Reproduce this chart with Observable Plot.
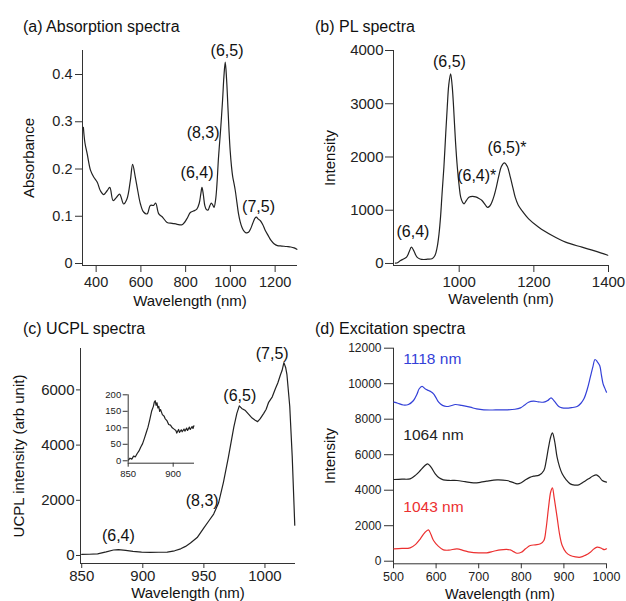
<!DOCTYPE html>
<html><head><meta charset="utf-8">
<script src="https://cdn.jsdelivr.net/npm/d3@7"></script>
<script src="https://cdn.jsdelivr.net/npm/@observablehq/plot@0.6"></script>
<style>
body{margin:0;background:#fff;}
#fig{position:relative;width:626px;height:601px;overflow:hidden;background:#fff;font-family:"Liberation Sans",Arial,Helvetica,sans-serif;color:#111;}
#fig svg{position:absolute;overflow:visible;}
.title{position:absolute;font-size:16px;line-height:18px;white-space:nowrap;color:#111;}
</style></head><body><div id="fig"></div>
<script>
// ---------- (a) Absorption spectra ----------
const absWl = [343,350,360,375,389,405,419,434,449,461,476,491,505,523,538,553,563,575,586,598,612,628,642,657,666,680,695,717,740,762,784,806,821,835,850,861,868,873,879,886,893,900,908,915,921,927,934,940,947,956,965,971,977,983,989,994,999,1005,1010,1016,1022,1029,1036,1044,1052,1060,1070,1081,1090,1100,1110,1116,1125,1135,1145,1156,1168,1180,1195,1210,1230,1252,1270,1285,1297];
const absVal = [0.288,0.255,0.232,0.197,0.183,0.172,0.154,0.146,0.154,0.161,0.133,0.140,0.147,0.126,0.137,0.176,0.210,0.183,0.154,0.126,0.109,0.105,0.123,0.123,0.128,0.105,0.099,0.087,0.085,0.083,0.082,0.095,0.108,0.111,0.115,0.128,0.148,0.161,0.146,0.122,0.114,0.113,0.122,0.128,0.124,0.119,0.135,0.168,0.225,0.281,0.345,0.395,0.426,0.390,0.331,0.280,0.239,0.205,0.185,0.170,0.154,0.130,0.106,0.088,0.076,0.069,0.065,0.066,0.073,0.085,0.096,0.098,0.094,0.090,0.082,0.070,0.060,0.050,0.042,0.038,0.037,0.036,0.035,0.033,0.030];
const absXTicks = [400,600,800,1000,1200];
const absYTicks = [0,0.1,0.2,0.3,0.4];
const absYTickLabels = ["0","0.1","0.2","0.3","0.4"];
const absAnnText = ["(6,5)","(8,3)","(6,4)","(7,5)"];
const absAnnX = [985,878,851,1126];
const absAnnY = [0.451,0.276,0.191,0.119];

// ---------- (b) PL spectra ----------
const plWl = [829,836,843,851,859,866,872,879,887,895,905,915,927,935,941,946,950,954,959,964,968,972,977,981,985,990,995,1000,1004,1009,1013,1019,1026,1036,1044,1053,1061,1070,1076,1082,1088,1093,1100,1106,1113,1121,1129,1137,1144,1150,1158,1168,1186,1213,1249,1285,1329,1365,1398];
const plVal = [5,20,56,85,118,220,306,230,118,85,75,80,88,150,306,560,870,1300,1808,2450,2935,3350,3562,3350,2935,2300,1808,1450,1245,1150,1120,1180,1245,1260,1250,1220,1183,1100,1055,1080,1160,1260,1450,1640,1820,1890,1820,1620,1420,1245,1100,995,839,682,526,400,306,231,155];
const plXTicks = [1000,1200,1400];
const plYTicks = [0,1000,2000,3000,4000];
const plAnnText = ["(6,5)","(6,4)","(6,4)*","(6,5)*"];
const plAnnX = [974,876,1047,1128];
const plAnnY = [3780,588,1653,2165];

// ---------- (c) UCPL spectra ----------
const ucWl = [850,856,863,870,876,880,886,892,899,906,913,920,926,931,935,939,944.5,950,954,958,962,966,970,974.5,977,979,981,984,986,989.5,992,994,996,999,1001,1003,1006,1008.6,1010.5,1012.7,1014,1015.5,1017,1018,1020.3,1022.3,1024.4];
const ucVal = [40,45,60,130,200,215,185,150,125,115,118,125,170,242,330,450,650,1000,1250,1500,1900,2650,3550,4650,5150,5420,5330,5250,5150,4980,4900,4850,4950,5150,5300,5550,5750,6050,6250,6550,6700,6990,6800,6550,5400,3600,1100];
const ucXTicks = [850,900,950,1000];
const ucYTicks = [0,2000,4000,6000];
const ucAnnText = ["(6,4)","(8,3)","(6,5)","(7,5)"];
const ucAnnX = [880,948.6,979.4,1005.9];
const ucAnnY = [725,1993,5797,7308];
// inset
const insWl = [850.5,852,854,856,858,860,862,864,866,868,870,872,874,876,878,879,880,881,882,883,884,885,886,888,890,891,893,895,897,899,901,903,904,906,907,909,910,912,913,915,916,918,919,921,922,923];
const insVal = [3,8,5,14,12,22,30,42,52,68,85,102,125,150,165,178,182,168,176,160,165,150,155,140,135,128,122,110,108,100,96,92,84,95,86,94,88,96,90,99,92,102,95,104,98,106];
const insXTicks = [850,900];
const insYTicks = [0,50,100,150,200];

// ---------- (d) Excitation spectra ----------
const exWl1118 = [501,510,523,535,547,555,560,567,575,582,588,594,600,606,615,625,635,645,660,680,695,712,740,766,785,798,808,817,829,840,853,862,870,878,888,896,904,918,931,940,947,955,962,968,973,978,984,988,992,996,1000];
const exVal1118 = [8960,8900,8800,8830,9054,9400,9700,9850,9700,9617,9550,9430,9200,8958,8780,8715,8760,8828,8780,8676,8580,8526,8520,8526,8560,8639,8800,8958,9014,8980,8958,9050,9204,9000,8715,8640,8620,8650,8715,8900,9149,9700,10366,10950,11363,11250,11025,10500,9994,9750,9522];
const exWl1064 = [501,520,539,552,563,572,580,588,598,607,617,630,649,668,688,705,719,743,766,780,790,800,810,820,829,842,853,858,864,869,873,878,884,890,896,905,915,925,935,945,958,968,976,983,990,1000];
const exVal1064 = [4603,4620,4642,4850,5110,5350,5487,5300,4924,4700,4586,4550,4546,4480,4417,4450,4510,4586,4546,4440,4357,4420,4586,4720,4789,4850,5110,5600,6425,7000,7233,6800,5860,5300,4924,4600,4357,4290,4300,4450,4642,4800,4868,4750,4546,4451];
const exWl1043 = [501,520,539,552,563,573,582,588,594,605,617,630,649,665,680,700,719,735,751,774,782,790,800,810,821,833,845,853,858,864,869,873,877,884,890,896,905,915,927,939,950,962,970,978,985,990,995,1000];
const exVal1043 = [698,720,755,950,1262,1600,1769,1500,1166,850,642,620,698,600,507,470,473,560,642,642,540,450,500,698,884,924,980,1166,1800,3042,3900,4135,3600,2479,1500,884,500,321,240,225,330,507,680,789,760,698,650,698];
const exXTicks = [500,600,700,800,900,1000];
const exYTicks = [0,2000,4000,6000,8000,10000,12000];
const exLabelText = ["1118 nm","1064 nm","1043 nm"];
const exLabelX = [523,523,523];
const exLabelY = [11369,7082,3025];
const exColors = ["#3340d8","#222222","#ec3030"];

// ---------- helpers ----------
const FONT = '"Liberation Sans", Arial, Helvetica, sans-serif';
const INK = "#222";
const zip = (xs, ys) => xs.map((x, i) => ({x, y: ys[i]}));
const fig = document.getElementById("fig");
function place(el, left, top) {
  el.style.left = left + "px"; el.style.top = top + "px";
  el.style.position = "absolute"; el.style.overflow = "visible";
  fig.appendChild(el);
}
function addTitle(text, left, top) {
  const d = document.createElement("div");
  d.className = "title"; d.textContent = text;
  d.style.left = left + "px"; d.style.top = top + "px";
  fig.appendChild(d);
}
function panel(o) {
  const marks = [
    Plot.ruleX([o.xDomain[0]], {stroke: "#333", strokeWidth: 1}),
    Plot.ruleY([o.yDomain[0]], {stroke: "#333", strokeWidth: 1}),
    Plot.axisY({anchor: "left", ticks: o.yTicks, tickSize: o.yTickSize, tickPadding: o.yTickPad,
      tickFormat: o.yFmt || (d => String(d)), label: null, fontSize: o.yFont, stroke: "#333"}),
    Plot.axisX({anchor: "bottom", ticks: o.xTicks, tickSize: o.xTickSize, tickPadding: o.xTickPad,
      tickFormat: d => String(d), label: null, fontSize: o.xFont, stroke: "#333"})
  ];
  if (o.yLabel) marks.push(Plot.text([o.yLabel], {frameAnchor: "left", dx: o.yLabelDx, rotate: -90,
      textAnchor: "middle", lineAnchor: "middle", fontSize: 15, fill: "#111"}));
  if (o.xLabel) marks.push(Plot.text([o.xLabel], {frameAnchor: "bottom", dy: o.xLabelDy,
      textAnchor: "middle", lineAnchor: "middle", fontSize: o.xLabelFont || 15, fill: "#111"}));
  return Plot.plot({
    width: o.width, height: o.height,
    marginLeft: o.ml, marginRight: o.mr, marginTop: o.mt, marginBottom: o.mb,
    x: {type: "linear", domain: o.xDomain},
    y: {type: "linear", domain: o.yDomain},
    style: {background: "transparent", fontFamily: FONT, color: INK, overflow: "visible"},
    marks: marks.concat(o.marks)
  });
}

// (a)
place(panel({
  width: 313, height: 300, ml: 82, mr: 16, mt: 50, mb: 35,
  xDomain: [339, 1300], yDomain: [-0.0042, 0.4508],
  xTicks: absXTicks, yTicks: absYTicks, yFmt: d => absYTickLabels[absYTicks.indexOf(d)] ?? String(d),
  yTickSize: 7, yTickPad: 3, yFont: 14.5, xTickSize: 7, xTickPad: 4, xFont: 14.5,
  yLabel: "Absorbance", yLabelDx: -53.5, xLabel: "Wavelength (nm)", xLabelDy: 36,
  marks: [
    Plot.line(zip(absWl, absVal), {x: "x", y: "y", stroke: INK, strokeWidth: 1.2, curve: "catmull-rom"}),
    Plot.text(absAnnText.map((t, i) => ({t, x: absAnnX[i], y: absAnnY[i]})), {x: "x", y: "y", text: "t", fontSize: 16, fill: "#111"})
  ]
}), 0, 0);
addTitle("(a) Absorption spectra", 23, 18);

// (b)
place(panel({
  width: 313, height: 300, ml: 80, mr: 18, mt: 50, mb: 35,
  xDomain: [824, 1400], yDomain: [-38, 4000],
  xTicks: plXTicks, yTicks: plYTicks,
  yTickSize: 8, yTickPad: 2, yFont: 15, xTickSize: 7, xTickPad: 4, xFont: 15,
  yLabel: "Intensity", yLabelDx: -63, xLabel: "Wavelenth (nm)", xLabelDy: 34,
  marks: [
    Plot.line(zip(plWl, plVal), {x: "x", y: "y", stroke: INK, strokeWidth: 1.2, curve: "catmull-rom"}),
    Plot.text(plAnnText.map((t, i) => ({t, x: plAnnX[i], y: plAnnY[i]})), {x: "x", y: "y", text: "t", fontSize: 16, fill: "#111"})
  ]
}), 313, 0);
addTitle("(b) PL spectra", 315, 18);

// (c)
place(panel({
  width: 313, height: 301, ml: 80, mr: 18, mt: 48, mb: 38,
  xDomain: [849, 1025], yDomain: [-290, 7500],
  xTicks: ucXTicks, yTicks: ucYTicks,
  yTickSize: 4, yTickPad: 2, yFont: 15, xTickSize: 5, xTickPad: 2, xFont: 15,
  yLabel: "UCPL intensity (arb unit)", yLabelDx: -61, xLabel: "Wavelength (nm)", xLabelDy: 30,
  marks: [
    Plot.line(zip(ucWl, ucVal), {x: "x", y: "y", stroke: INK, strokeWidth: 1.2}),
    Plot.text(ucAnnText.map((t, i) => ({t, x: ucAnnX[i], y: ucAnnY[i]})), {x: "x", y: "y", text: "t", fontSize: 16, fill: "#111"})
  ]
}), 0, 300);
// inset
place(panel({
  width: 313, height: 301, ml: 127.7, mr: 119, mt: 94.3, mb: 138.3,
  xDomain: [850, 923.7], yDomain: [-7.3, 200],
  xTicks: insXTicks, yTicks: insYTicks,
  yTickSize: 5, yTickPad: 2, yFont: 9.5, xTickSize: 4, xTickPad: 3, xFont: 9.5,
  marks: [
    Plot.line(zip(insWl, insVal), {x: "x", y: "y", stroke: INK, strokeWidth: 1.2})
  ]
}), 0, 300);
addTitle("(c) UCPL spectra", 23, 320);

// (d)
const exSeries = [[exWl1118, exVal1118], [exWl1064, exVal1064], [exWl1043, exVal1043]];
place(panel({
  width: 313, height: 301, ml: 80, mr: 20, mt: 47.7, mb: 37.7,
  xDomain: [500, 1000], yDomain: [-146, 12000],
  xTicks: exXTicks, yTicks: exYTicks,
  yTickSize: 9, yTickPad: 3, yFont: 12, xTickSize: 5, xTickPad: 3, xFont: 12.5,
  yLabel: "Intensity", yLabelDx: -63, xLabel: "Wavelength (nm)", xLabelDy: 31, xLabelFont: 14.5,
  marks: exSeries.map(([w, v], i) => Plot.line(zip(w, v), {x: "x", y: "y", stroke: exColors[i], strokeWidth: 1.2, curve: "catmull-rom"}))
    .concat([
      Plot.text(exLabelText.map((t, i) => ({t, x: exLabelX[i], y: exLabelY[i], c: exColors[i]})),
        {x: "x", y: "y", text: "t", fill: "c", textAnchor: "start", fontSize: 15.5})
    ])
}), 313, 300);
addTitle("(d) Excitation spectra", 315, 320);
</script></body></html>
